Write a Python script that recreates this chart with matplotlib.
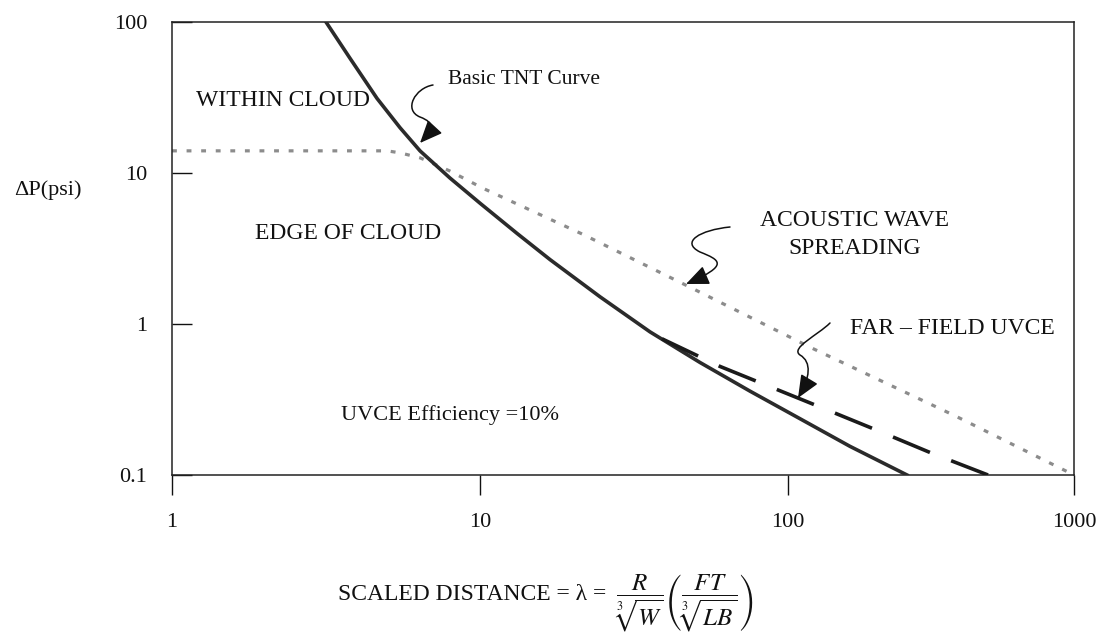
import numpy as np
import matplotlib
matplotlib.use("Agg")
import matplotlib.pyplot as plt
from matplotlib.path import Path
from matplotlib.patches import FancyArrowPatch
from matplotlib.ticker import NullLocator, FixedLocator, FixedFormatter
from matplotlib.transforms import Affine2D

plt.rcParams["font.family"] = ["Liberation Serif", "DejaVu Serif"]
plt.rcParams["mathtext.fontset"] = "stix"
plt.rcParams["lines.scale_dashes"] = False

# ---- data -------------------------------------------------------------
# Basic TNT curve (scaled distance, overpressure psi)
tnt_lambda = [3.162, 3.784, 4.63, 5.50, 6.39, 7.99, 10.0, 13.19, 16.88,
              24.53, 35.64, 51.8, 75.3, 110.1, 164.8, 260.7]
tnt_dp = [100, 57.5, 31.2, 19.95, 14.0, 9.26, 6.31, 3.98, 2.67,
          1.514, 0.887, 0.556, 0.359, 0.236, 0.1547, 0.1]

# Acoustic wave spreading
ac_lambda = [1, 4.99, 5.50, 6.39, 7.99, 10.2, 21.6, 46.3, 122.3, 383.7, 1000]
ac_dp = [14.02, 14.02, 13.6, 12.6, 10.3, 7.94, 3.92, 1.82, 0.687, 0.2466, 0.1]

# Far-field UVCE
ff_lambda = [38.98, 60.15, 124.3, 198.2, 318.8, 500.5]
ff_dp = [0.798, 0.5236, 0.291, 0.2028, 0.1392, 0.1]

x_ticks = [1, 10, 100, 1000]
x_tick_labels = ["1", "10", "100", "1000"]
y_ticks = [0.1, 1, 10, 100]
y_tick_labels = ["0.1", "1", "10", "100"]

# ---- figure -----------------------------------------------------------
W, H = 1105, 638
fig = plt.figure(figsize=(W / 100, H / 100), dpi=100)
ax = fig.add_axes([172 / W, 1 - 475 / H, 902 / W, 453 / H])

# hand-ruled decade spacing of the horizontal axis (last decade is narrower)
DEC = np.array([0.0, 1.0, 2.0, 3.0])
POS = np.array([0.0, 308.0, 616.0, 902.0])


def fwd(x):
    lx = np.log10(np.clip(np.asarray(x, float), 1e-300, None))
    out = np.interp(lx, DEC, POS)
    out = np.where(lx < 0, lx * 308.0, out)
    out = np.where(lx > 3, 902.0 + (lx - 3) * 286.0, out)
    return out


def inv(p):
    p = np.asarray(p, float)
    lx = np.interp(p, POS, DEC)
    lx = np.where(p < 0, p / 308.0, lx)
    lx = np.where(p > 902, 3 + (p - 902.0) / 286.0, lx)
    return 10.0 ** lx


ax.set_xscale("function", functions=(fwd, inv))
ax.set_yscale("log")
ax.set_xlim(1, 1000)
ax.set_ylim(0.1, 100)

ax.xaxis.set_major_locator(FixedLocator(x_ticks))
ax.xaxis.set_major_formatter(FixedFormatter(x_tick_labels))
ax.xaxis.set_minor_locator(NullLocator())
ax.yaxis.set_major_locator(FixedLocator(y_ticks))
ax.yaxis.set_major_formatter(FixedFormatter(y_tick_labels))
ax.yaxis.set_minor_locator(NullLocator())

ax.tick_params(axis="x", direction="out", length=14.4, width=1.0,
               pad=13, labelsize=16, colors="#111111")
ax.tick_params(axis="y", direction="in", length=14.4, width=1.0,
               pad=18, labelsize=16, colors="#111111")
for s in ax.spines.values():
    s.set_linewidth(1.1)
    s.set_color("#222222")

# ---- curves -----------------------------------------------------------
ax.plot(ac_lambda, ac_dp, color="#8c8c8c", lw=2.3, dashes=(3.5, 7),
        solid_capstyle="butt", zorder=2)
ax.plot(tnt_lambda, tnt_dp, color="#2b2b2b", lw=2.6, zorder=3,
        solid_joinstyle="round")
ax.plot(ff_lambda, ff_dp, color="#1a1a1a", lw=2.6, dashes=(28.8, 16.4),
        zorder=3)

# ---- annotations --------------------------------------------------------
pix = Affine2D().scale(1 / W, -1 / H).translate(0, 1) + fig.transFigure


def ftext(x, y, s, size=16.5, ha="center", va="center", **kw):
    return fig.text(x / W, 1 - y / H, s, fontsize=size, ha=ha, va=va,
                    color="#111111", **kw)


ftext(283, 100, "WITHIN CLOUD", 17)
ftext(448, 79, "Basic TNT Curve", 15.5, ha="left")
ftext(348, 233, "EDGE OF CLOUD", 17)
ftext(855, 220, "ACOUSTIC WAVE", 17)
ftext(855, 248, "SPREADING", 17)
ftext(952, 328, "FAR \u2013 FIELD UVCE", 17)
ftext(450, 415, "UVCE Efficiency =10%", 16)
ftext(48, 190, "\u0394P(psi)", 16)

# horizontal-axis title: words plus a larger formula set right after them
BASE = 600
t1 = ftext(338, BASE, "SCALED DISTANCE = \u03bb = ", 17, ha="left",
           va="baseline")
fig.canvas.draw()
bb = t1.get_window_extent()
fig.text(bb.x1 / W + 0.002, 1 - BASE / H,
         r"$\dfrac{R}{\sqrt[3]{W}}\left(\dfrac{FT}{\sqrt[3]{LB}}\right)$",
         fontsize=18, ha="left", va="baseline", color="#111111")


def squiggle(verts):
    codes = [Path.MOVETO] + [Path.CURVE4] * (len(verts) - 1)
    arr = FancyArrowPatch(path=Path(verts, codes),
                          arrowstyle="-|>,head_length=0.7,head_width=0.3",
                          mutation_scale=20, lw=1.1, color="#111111",
                          transform=pix)
    fig.add_artist(arr)


squiggle([(433, 85), (415, 88), (403, 110), (420, 117),
          (436, 123), (432, 130), (420, 143)])
squiggle([(730, 227), (700, 230), (680, 242), (700, 252),
          (720, 260), (730, 265), (686, 284)])
squiggle([(830, 323), (818, 335), (790, 348), (800, 355),
          (812, 362), (810, 378), (798, 398)])

fig.savefig("out.png", dpi=100, facecolor="white")
